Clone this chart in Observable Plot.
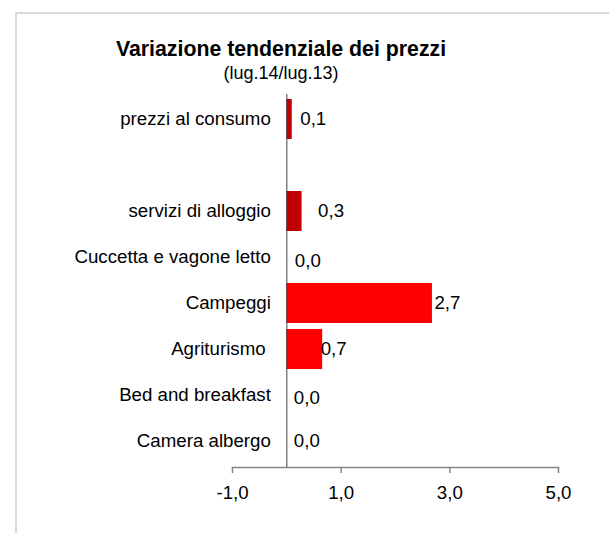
<!DOCTYPE html>
<html>
<head>
<meta charset="utf-8">
<script src="https://cdn.jsdelivr.net/npm/d3@7"></script>
<script src="https://cdn.jsdelivr.net/npm/@observablehq/plot@0.6"></script>
<style>
  html, body { margin: 0; padding: 0; background: #fff; overflow: hidden; }
  body { width: 609px; height: 533px; position: relative; font-family: "Liberation Sans", Arial, sans-serif; }
  #hline { position: absolute; left: 15px; top: 12px; width: 594px; height: 1.5px; background: #d9d9d9; }
  #vline { position: absolute; left: 15px; top: 12px; width: 1.5px; height: 521px; background: #d9d9d9; }
  #title { position: absolute; left: 81px; width: 400px; top: 37px; text-align: center; font-weight: bold; font-size: 21.3px; color: #000; line-height: 24px; }
  #subtitle { position: absolute; left: 81px; width: 400px; top: 63px; text-align: center; font-size: 18px; color: #000; line-height: 20px; }
  #chart { position: absolute; left: 0; top: 0; width: 609px; height: 533px; overflow: hidden; }
  #chart svg { display: block; }
</style>
</head>
<body>
<div id="hline"></div>
<div id="vline"></div>
<div id="chart"></div>
<div id="title">Variazione tendenziale dei prezzi</div>
<div id="subtitle">(lug.14/lug.13)</div>
<script>
// ---- data ----
const categories = ["prezzi al consumo", "servizi di alloggio", "Cuccetta e vagone letto", "Campeggi", "Agriturismo\u00a0", "Bed and breakfast", "Camera albergo"];
const values = [0.1, 0.28, 0.0, 2.68, 0.66, 0.0, 0.0];
const groups = ["totale", "totale", "dettaglio", "dettaglio", "dettaglio", "dettaglio", "dettaglio"];
const xTicks = [-1, 1, 3, 5];

const data = categories.map((c, i) => ({category: c, value: values[i], group: groups[i]}));
const GAP = "\u2003gap";
const yDomain = [categories[0], GAP, ...categories.slice(1)];
const fmt = d => d.toFixed(1).replace(".", ",");

// small label nudges to match the original label placement
const labelDx = {"prezzi al consumo": 8, "servizi di alloggio": 16, "Cuccetta e vagone letto": 8, "Campeggi": 2, "Agriturismo\u00a0": -2, "Bed and breakfast": 7, "Camera albergo": 7};
const labelDy = {"Cuccetta e vagone letto": 4, "Bed and breakfast": 3};

const font = "18.7px";
const chart = Plot.plot({
  width: 609,
  height: 533,
  marginLeft: 232,
  marginRight: 51,
  marginTop: 94,
  marginBottom: 66,
  style: {fontFamily: "'Liberation Sans', Arial, sans-serif", fontSize: font, background: "transparent", color: "#000"},
  x: {domain: [-1, 5]},
  y: {domain: yDomain, paddingInner: 0.12, paddingOuter: 0.06, axis: null},
  color: {domain: ["totale", "dettaglio"], range: ["#C00000", "#FF0000"]},
  marks: [
    Plot.barX(data, {x: "value", y: "category", fill: "group"}),
    Plot.frame({anchor: "bottom", stroke: "#868686", strokeWidth: 1.5}),
    Plot.axisX({ticks: xTicks, tickFormat: fmt, tickSize: 6, tickPadding: 12, stroke: "#868686", strokeWidth: 1.5, fill: "#000", fontSize: font, label: null}),
    Plot.ruleX([0], {stroke: "#404040", strokeWidth: 1}),
    Plot.text(data, {x: () => 0, y: "category", text: "category", textAnchor: "end", dx: -16, fill: "#000", fontSize: font}),
    ...data.map(d => Plot.text([d], {x: "value", y: "category", text: r => fmt(r.value), textAnchor: "start", dx: labelDx[d.category], dy: labelDy[d.category] || 0, fill: "#000", fontSize: font}))
  ]
});
document.getElementById("chart").appendChild(chart);
</script>
</body>
</html>
